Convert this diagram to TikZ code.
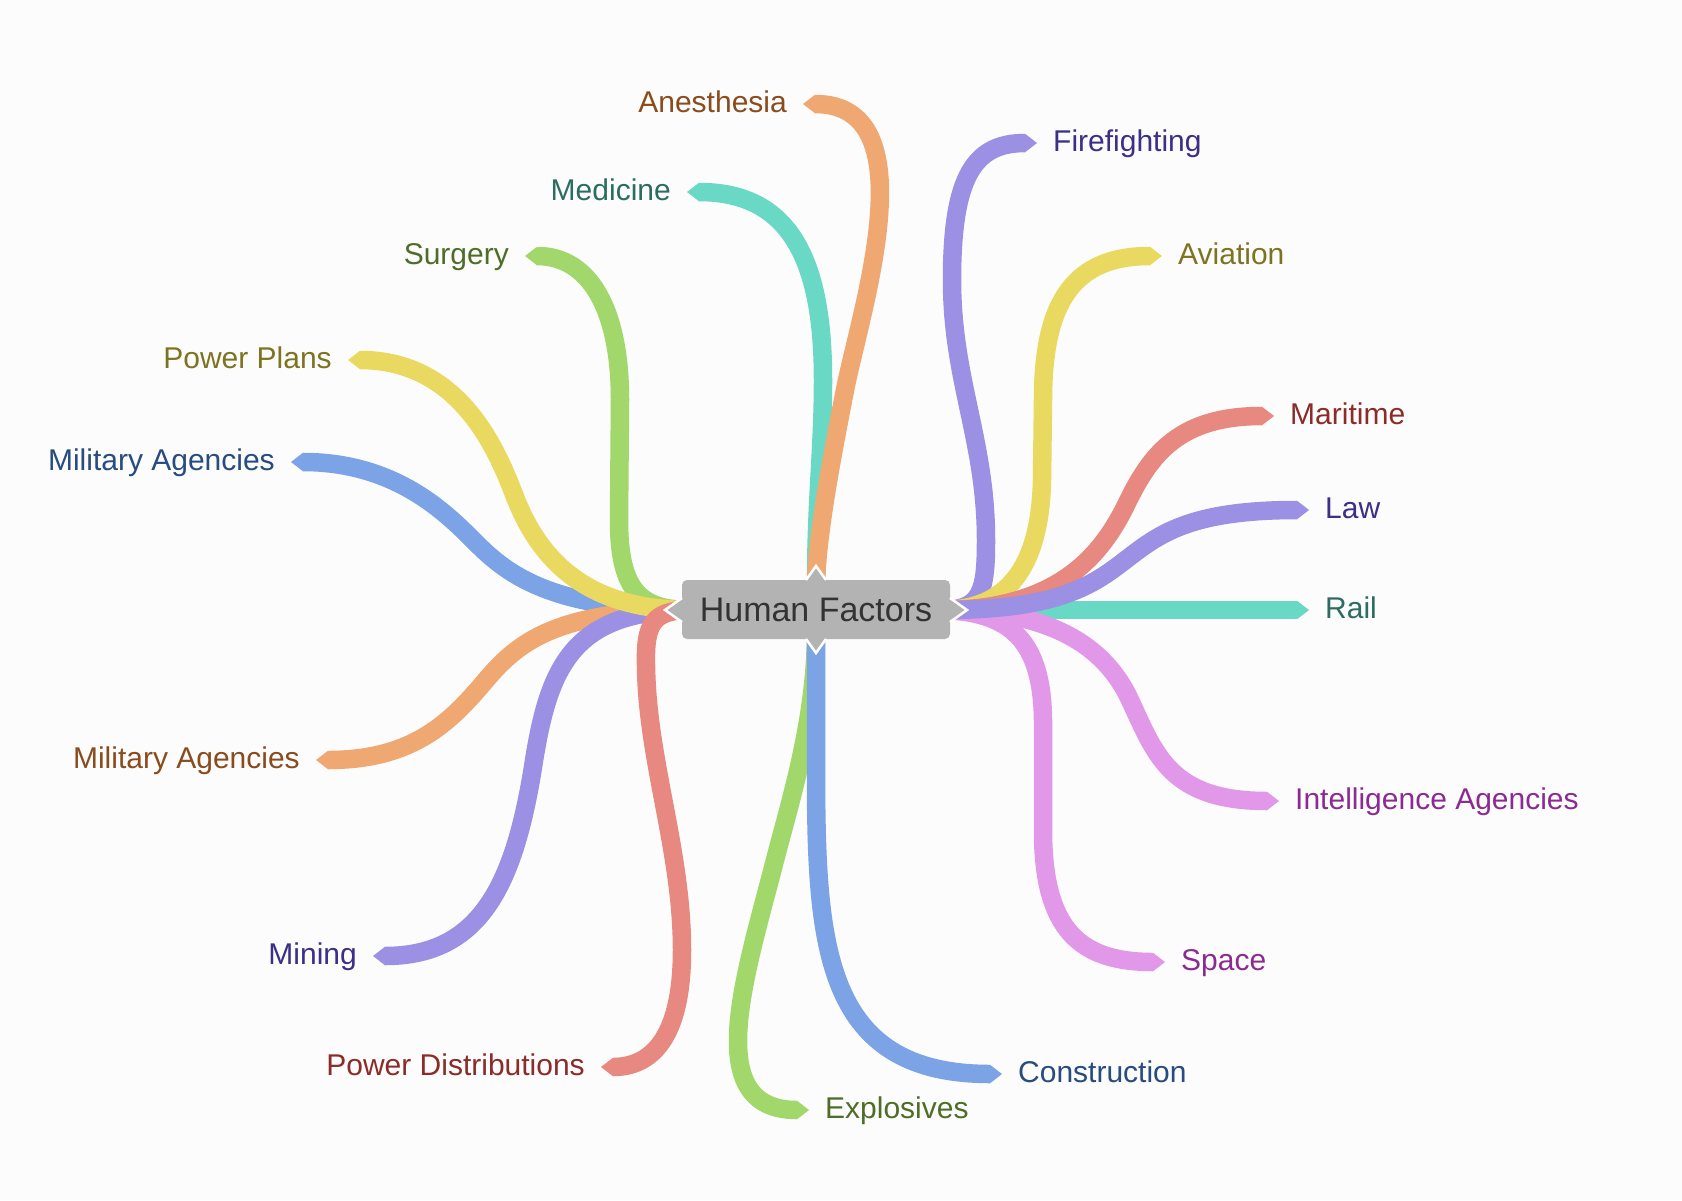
\documentclass[tikz,border=0pt]{standalone}
\usepackage{fontspec}
\setmainfont{Liberation Sans}
\definecolor{bg}{HTML}{FCFCFC}
\definecolor{cOr}{HTML}{F0A872}
\definecolor{cTe}{HTML}{69D8C5}
\definecolor{cGr}{HTML}{A1D76B}
\definecolor{cYe}{HTML}{EAD960}
\definecolor{cBl}{HTML}{7BA3E5}
\definecolor{cPu}{HTML}{9B90E3}
\definecolor{cRe}{HTML}{E78881}
\definecolor{cPk}{HTML}{E198E8}
\definecolor{tBrown}{HTML}{8A4B1D}
\definecolor{tTeal}{HTML}{2B6D60}
\definecolor{tGreen}{HTML}{4E6E27}
\definecolor{tOlive}{HTML}{7D7321}
\definecolor{tNavy}{HTML}{284B80}
\definecolor{tIndigo}{HTML}{3B2F86}
\definecolor{tMaroon}{HTML}{8B2B2A}
\definecolor{tMagenta}{HTML}{8B2B91}
\definecolor{cHub}{HTML}{B3B3B3}
\definecolor{cHubText}{HTML}{333333}
\tikzset{
  rib/.style={line width=18.5pt, draw=#1},
  lbl/.style={inner sep=0pt, font=\fontsize{30}{36}\selectfont},
  lblL/.style={lbl, anchor=base east, text=#1},
  lblR/.style={lbl, anchor=base west, text=#1},
  hubbox/.style={fill=cHub, text=cHubText, rounded corners=5pt, minimum width=268pt,
    minimum height=59pt, inner sep=0pt, font=\fontsize{34}{40}\selectfont},
  notch/.style={draw=white, line width=2.5pt, line join=miter},
}
\newcommand\tipL[2]{\fill[#1] (#2) ++(0,-9.25) -- ++(-12,9.25) -- ++(12,9.25) -- cycle;}
\newcommand\tipR[2]{\fill[#1] (#2) ++(0,-9.25) -- ++(12,9.25) -- ++(-12,9.25) -- cycle;}
\begin{document}
\begin{tikzpicture}[x=1pt,y=-1pt]
\fill[bg] (0,0) rectangle (1682,1200);
\useasboundingbox (0,0) rectangle (1682,1200);
% hubs
\coordinate (hL) at (690,610);
\coordinate (hR) at (942,610);
\coordinate (hT) at (816,588);
\coordinate (hB) at (816,631);
% branch ends
\coordinate (bAnes) at (815,104);
\coordinate (bMed) at (699,192);
\coordinate (bSurg) at (537,256);
\coordinate (bPP) at (360,360);
\coordinate (bMA1) at (303,462);
\coordinate (bMA2) at (328,760);
\coordinate (bMin) at (385,956);
\coordinate (bPD) at (613,1067);
\coordinate (bExp) at (797,1110);
\coordinate (bCon) at (990,1074);
\coordinate (bSpa) at (1153,962);
\coordinate (bInt) at (1267,801);
\coordinate (bRail) at (1297,610);
\coordinate (bLaw) at (1297,510);
\coordinate (bMar) at (1262,416);
\coordinate (bAv) at (1150,256);
\coordinate (bFire) at (1025,143);
% left branches
\draw[rib=cGr] (hL) .. controls (640,610) and (619,590) .. (619,520) -- (620,400) .. controls (620,310) and (590,256) .. (bSurg);
\draw[rib=cBl] (hL) .. controls (540,610) and (500,567) .. (470,537) .. controls (440,507) and (390,462) .. (bMA1);
\draw[rib=cOr] (hL) .. controls (545,610) and (512,649) .. (480,687) .. controls (447,725) and (410,760) .. (bMA2);
\draw[rib=cPu] (hL) .. controls (570,610) and (548,670) .. (533,767) .. controls (514,885) and (480,956) .. (bMin);
\draw[rib=cYe] (hL) .. controls (580,610) and (537,553) .. (515,497) .. controls (497,450) and (460,360) .. (bPP);
\draw[rib=cRe] (hL) .. controls (652,610) and (645,625) .. (646,665) .. controls (647,760) and (682,850) .. (682,950) .. controls (682,1040) and (650,1067) .. (bPD);
% top branches
\draw[rib=cTe] (hT) .. controls (816,500) and (823,450) .. (823,380) .. controls (823,260) and (790,192) .. (bMed);
\draw[rib=cOr] (hT) .. controls (816,540) and (831.6,458.7) .. (845,390) .. controls (860.3,311.4) and (930,104) .. (bAnes);
% bottom branches
\draw[rib=cGr] (hB) .. controls (816,720) and (790,802) .. (775,860) .. controls (745,977) and (700,1110) .. (bExp);
\draw[rib=cBl] (hB) -- (816,760) .. controls (816,940) and (820,1074) .. (bCon);
% right branches
\draw[rib=cTe] (hR) -- (bRail);
\draw[rib=cPk] (hR) .. controls (1010,612) and (1042,640) .. (1043,720) -- (1043,830) .. controls (1043,930) and (1080,962) .. (bSpa);
\draw[rib=cPk] (hR) .. controls (1050,610) and (1104.7,645.6) .. (1130,700) .. controls (1155.3,754.4) and (1170,801) .. (bInt);
\draw[rib=cPu] (hR) .. controls (982,610) and (986,590) .. (986,540) .. controls (986,440) and (952,380) .. (952,280) .. controls (952,175) and (975,143) .. (bFire);
\draw[rib=cYe] (hR) .. controls (1005,610) and (1040,570) .. (1042,480) -- (1043,400) .. controls (1043,300) and (1075,256) .. (bAv);
\draw[rib=cRe] (hR) .. controls (1060,610) and (1103,552.6) .. (1127,503) .. controls (1151,453.4) and (1180,416) .. (bMar);
\draw[rib=cPu] (hR) .. controls (1175,610) and (1080,510) .. (bLaw);
% tips
\tipL{cOr}{bAnes}
\tipL{cTe}{bMed}
\tipL{cGr}{bSurg}
\tipL{cYe}{bPP}
\tipL{cBl}{bMA1}
\tipL{cOr}{bMA2}
\tipL{cPu}{bMin}
\tipL{cRe}{bPD}
\tipR{cGr}{bExp}
\tipR{cBl}{bCon}
\tipR{cPk}{bSpa}
\tipR{cPk}{bInt}
\tipR{cTe}{bRail}
\tipR{cPu}{bLaw}
\tipR{cRe}{bMar}
\tipR{cYe}{bAv}
\tipR{cPu}{bFire}
% central node
\node[hubbox] (hub) at (816,609.5) {Human Factors};
\fill[cHub] (684,598) -- (665,610) -- (684,622) -- cycle;
\draw[notch] (682,598) -- (665,610) -- (682,622);
\fill[cHub] (948,598) -- (967,610) -- (948,622) -- cycle;
\draw[notch] (950,598) -- (967,610) -- (950,622);
\fill[cHub] (806,582) -- (816,566) -- (826,582) -- cycle;
\draw[notch] (806,580) -- (816,566) -- (826,580);
\fill[cHub] (806,637) -- (816,653) -- (826,637) -- cycle;
\draw[notch] (806,639) -- (816,653) -- (826,639);
% labels
\node[lblL=tBrown] (lAnes) at ([xshift=-28pt,yshift=-8pt]bAnes) {Anesthesia};
\node[lblL=tTeal] (lMed) at ([xshift=-28pt,yshift=-8pt]bMed) {Medicine};
\node[lblL=tGreen] (lSurg) at ([xshift=-28pt,yshift=-8pt]bSurg) {Surgery};
\node[lblL=tOlive] (lPP) at ([xshift=-28pt,yshift=-8pt]bPP) {Power Plans};
\node[lblL=tNavy] (lMA1) at ([xshift=-28pt,yshift=-8pt]bMA1) {Military Agencies};
\node[lblL=tBrown] (lMA2) at ([xshift=-28pt,yshift=-8pt]bMA2) {Military Agencies};
\node[lblL=tIndigo] (lMin) at ([xshift=-28pt,yshift=-8pt]bMin) {Mining};
\node[lblL=tMaroon] (lPD) at ([xshift=-28pt,yshift=-8pt]bPD) {Power Distributions};
\node[lblR=tGreen] (lExp) at ([xshift=28pt,yshift=-8pt]bExp) {Explosives};
\node[lblR=tNavy] (lCon) at ([xshift=28pt,yshift=-8pt]bCon) {Construction};
\node[lblR=tMagenta] (lSpa) at ([xshift=28pt,yshift=-8pt]bSpa) {Space};
\node[lblR=tMagenta] (lInt) at ([xshift=28pt,yshift=-8pt]bInt) {Intelligence Agencies};
\node[lblR=tTeal] (lRail) at ([xshift=28pt,yshift=-8pt]bRail) {Rail};
\node[lblR=tIndigo] (lLaw) at ([xshift=28pt,yshift=-8pt]bLaw) {Law};
\node[lblR=tMaroon] (lMar) at ([xshift=28pt,yshift=-8pt]bMar) {Maritime};
\node[lblR=tOlive] (lAv) at ([xshift=28pt,yshift=-8pt]bAv) {Aviation};
\node[lblR=tIndigo] (lFire) at ([xshift=28pt,yshift=-8pt]bFire) {Firefighting};
\end{tikzpicture}
\end{document}
